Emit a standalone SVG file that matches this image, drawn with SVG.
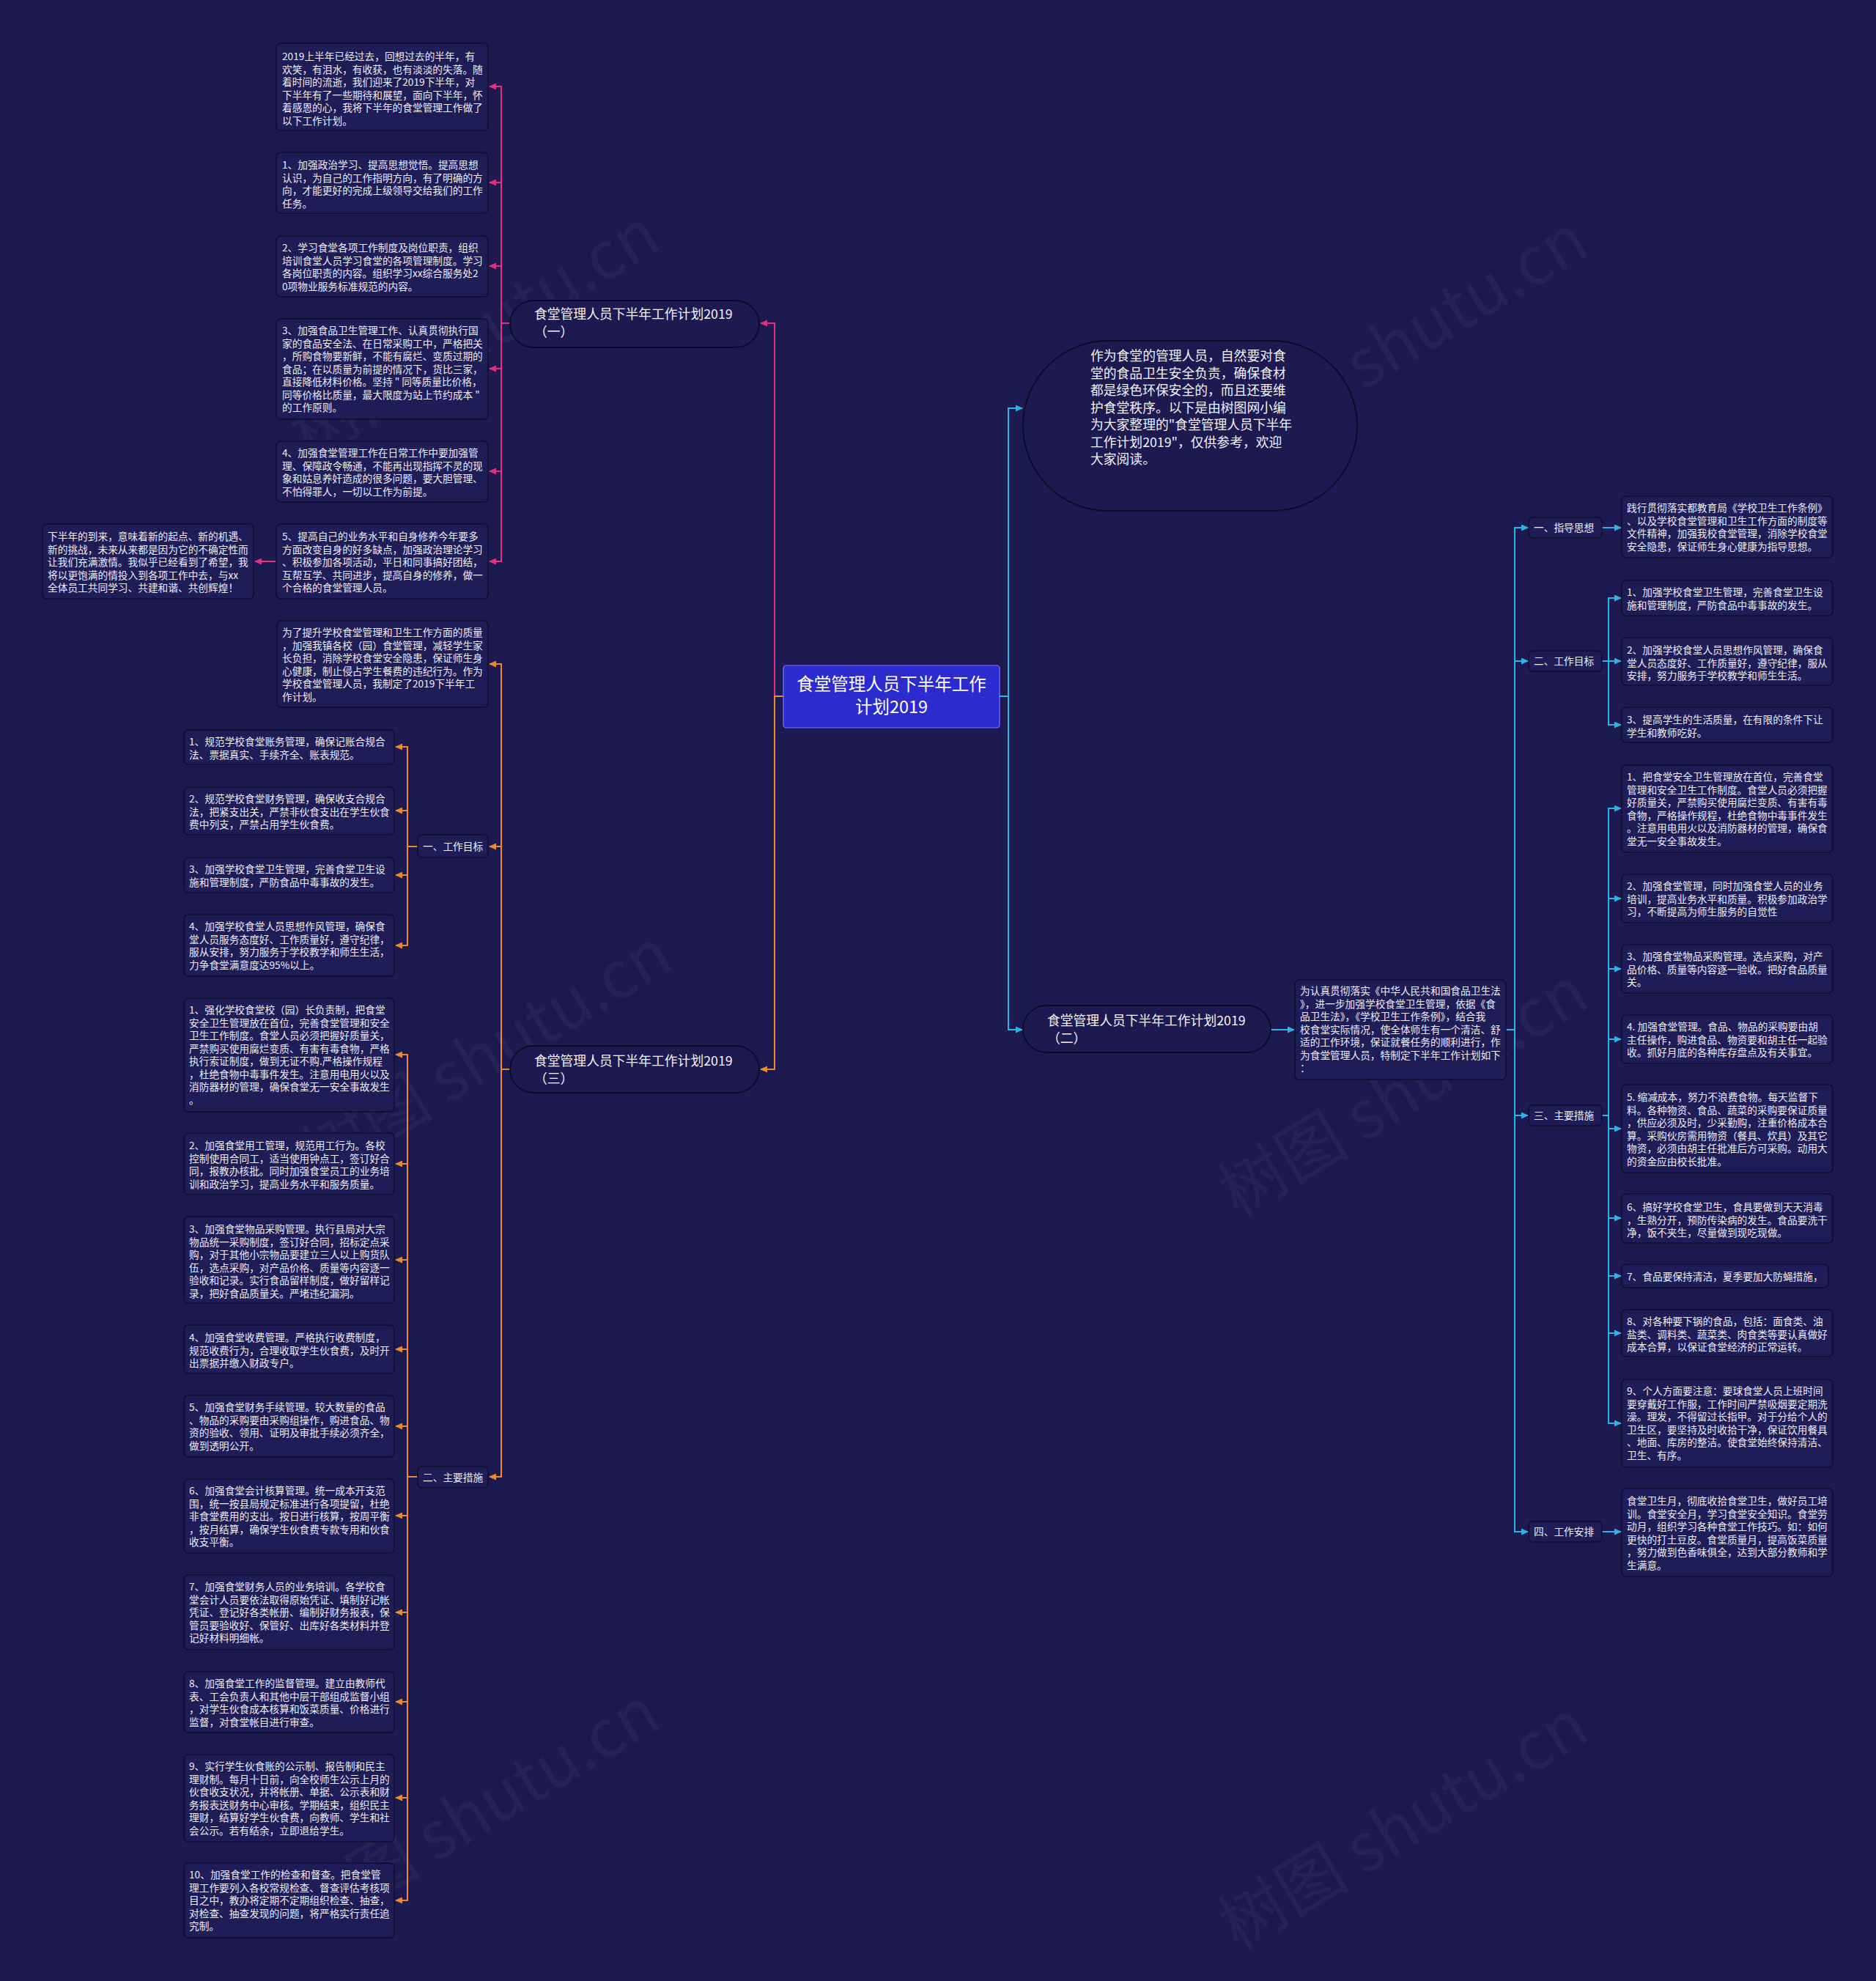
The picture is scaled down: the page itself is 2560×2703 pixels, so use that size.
<svg xmlns="http://www.w3.org/2000/svg" width="2560" height="2703" viewBox="0 0 2560 2703">
<defs>
<style>
.t{font-family:"Noto Sans CJK SC","Noto Sans",sans-serif;font-size:13.7px;fill:#ececf4}
.box{fill:#1e1d58;stroke:#0f0f2e;stroke-width:1.5}
.pill{fill:#1c1a50;stroke:#0c0c26;stroke-width:1.8}
.bt{font-family:"Noto Sans CJK SC","Noto Sans",sans-serif;font-size:17.8px;fill:#f2f2f8}
.wm{font-family:"Noto Sans CJK SC","Noto Sans",sans-serif;font-size:90px;fill:#ffffff;fill-opacity:0.035}
.cp{fill:none;stroke:#e2307c;stroke-width:2}
.co{fill:none;stroke:#ec8a2c;stroke-width:2}
.cc{fill:none;stroke:#2ab5e6;stroke-width:2}
</style>
<marker id="ap" markerWidth="10" markerHeight="9" refX="9" refY="4.5" orient="auto" markerUnits="userSpaceOnUse"><path d="M0,0 L10,4.5 L0,9 z" fill="#e2307c"/></marker>
<marker id="ao" markerWidth="10" markerHeight="9" refX="9" refY="4.5" orient="auto" markerUnits="userSpaceOnUse"><path d="M0,0 L10,4.5 L0,9 z" fill="#ec8a2c"/></marker>
<marker id="ac" markerWidth="10" markerHeight="9" refX="9" refY="4.5" orient="auto" markerUnits="userSpaceOnUse"><path d="M0,0 L10,4.5 L0,9 z" fill="#2ab5e6"/></marker>
</defs>
<rect x="0" y="0" width="2560" height="2703" fill="#1c1a50"/>
<g id="watermarks">
<text class="wm" x="664" y="483" text-anchor="middle" transform="rotate(-31 664 483)">树图 shutu.cn</text>
<text class="wm" x="1931" y="491" text-anchor="middle" transform="rotate(-31 1931 491)">树图 shutu.cn</text>
<text class="wm" x="681" y="1465" text-anchor="middle" transform="rotate(-31 681 1465)">树图 shutu.cn</text>
<text class="wm" x="1931" y="1517" text-anchor="middle" transform="rotate(-31 1931 1517)">树图 shutu.cn</text>
<text class="wm" x="664" y="2500" text-anchor="middle" transform="rotate(-31 664 2500)">树图 shutu.cn</text>
<text class="wm" x="1931" y="2517" text-anchor="middle" transform="rotate(-31 1931 2517)">树图 shutu.cn</text>
</g>
<g id="connectors">
<path class="cp" d="M1069 950 H1057 V441 H1038" marker-end="url(#ap)"/>
<path class="co" d="M1069 950 H1057 V1459 H1038" marker-end="url(#ao)"/>
<path class="cc" d="M1364 950 H1376 V557 H1395" marker-end="url(#ac)"/>
<path class="cc" d="M1364 950 H1376 V1405 H1395" marker-end="url(#ac)"/>
<path class="cp" d="M696 441 H684 V118 H668" marker-end="url(#ap)"/>
<path class="cp" d="M696 441 H684 V249 H668" marker-end="url(#ap)"/>
<path class="cp" d="M696 441 H684 V363 H668" marker-end="url(#ap)"/>
<path class="cp" d="M696 441 H684 V503 H668" marker-end="url(#ap)"/>
<path class="cp" d="M696 441 H684 V643 H668" marker-end="url(#ap)"/>
<path class="cp" d="M696 441 H684 V766 H668" marker-end="url(#ap)"/>
<path class="cp" d="M377 766 H348" marker-end="url(#ap)"/>
<path class="co" d="M696 1459 H684 V906 H668" marker-end="url(#ao)"/>
<path class="co" d="M696 1459 H684 V1155 H668" marker-end="url(#ao)"/>
<path class="co" d="M696 1459 H684 V2015 H668" marker-end="url(#ao)"/>
<path class="co" d="M570 1155 H556 V1019 H540" marker-end="url(#ao)"/>
<path class="co" d="M570 1155 H556 V1106 H540" marker-end="url(#ao)"/>
<path class="co" d="M570 1155 H556 V1194 H540" marker-end="url(#ao)"/>
<path class="co" d="M570 1155 H556 V1290 H540" marker-end="url(#ao)"/>
<path class="co" d="M570 2015 H556 V1439 H540" marker-end="url(#ao)"/>
<path class="co" d="M570 2015 H556 V1588 H540" marker-end="url(#ao)"/>
<path class="co" d="M570 2015 H556 V1719 H540" marker-end="url(#ao)"/>
<path class="co" d="M570 2015 H556 V1841 H540" marker-end="url(#ao)"/>
<path class="co" d="M570 2015 H556 V1946 H540" marker-end="url(#ao)"/>
<path class="co" d="M570 2015 H556 V2068 H540" marker-end="url(#ao)"/>
<path class="co" d="M570 2015 H556 V2200 H540" marker-end="url(#ao)"/>
<path class="co" d="M570 2015 H556 V2322 H540" marker-end="url(#ao)"/>
<path class="co" d="M570 2015 H556 V2453 H540" marker-end="url(#ao)"/>
<path class="co" d="M570 2015 H556 V2593 H540" marker-end="url(#ao)"/>
<path class="cc" d="M1734 1405 H1766" marker-end="url(#ac)"/>
<path class="cc" d="M2055 1405 H2067 V720 H2085" marker-end="url(#ac)"/>
<path class="cc" d="M2055 1405 H2067 V902 H2085" marker-end="url(#ac)"/>
<path class="cc" d="M2055 1405 H2067 V1522 H2085" marker-end="url(#ac)"/>
<path class="cc" d="M2055 1405 H2067 V2090 H2085" marker-end="url(#ac)"/>
<path class="cc" d="M2186 720 H2212" marker-end="url(#ac)"/>
<path class="cc" d="M2186 902 H2195 V816 H2212" marker-end="url(#ac)"/>
<path class="cc" d="M2186 902 H2212" marker-end="url(#ac)"/>
<path class="cc" d="M2186 902 H2195 V989 H2212" marker-end="url(#ac)"/>
<path class="cc" d="M2186 1522 H2195 V1103 H2212" marker-end="url(#ac)"/>
<path class="cc" d="M2186 1522 H2195 V1226 H2212" marker-end="url(#ac)"/>
<path class="cc" d="M2186 1522 H2195 V1322 H2212" marker-end="url(#ac)"/>
<path class="cc" d="M2186 1522 H2195 V1418 H2212" marker-end="url(#ac)"/>
<path class="cc" d="M2186 1522 H2195 V1540 H2212" marker-end="url(#ac)"/>
<path class="cc" d="M2186 1522 H2195 V1662 H2212" marker-end="url(#ac)"/>
<path class="cc" d="M2186 1522 H2195 V1741 H2212" marker-end="url(#ac)"/>
<path class="cc" d="M2186 1522 H2195 V1819 H2212" marker-end="url(#ac)"/>
<path class="cc" d="M2186 1522 H2195 V1942 H2212" marker-end="url(#ac)"/>
<path class="cc" d="M2186 2090 H2212" marker-end="url(#ac)"/>
</g>

<g id="center">
<rect x="1069" y="908" width="295" height="85" rx="4" fill="#2b2bcf" stroke="#7a7aff" stroke-width="1.2"/>
<text x="1216.5" y="942" text-anchor="middle" font-family="Noto Sans CJK SC, Noto Sans, sans-serif" font-size="23.5" fill="#ffffff">食堂管理人员下半年工作</text>
<text x="1216.5" y="973" text-anchor="middle" font-family="Noto Sans CJK SC, Noto Sans, sans-serif" font-size="23.5" fill="#ffffff">计划2019</text>
</g>

<g id="intro-bubble">
<rect class="pill" x="1396" y="465" width="456" height="232" rx="116"/>
<text class="bt" x="1488" y="492" font-size="17.6"><tspan x="1488">作为食堂的管理人员，自然要对食</tspan><tspan x="1488" dy="23.5">堂的食品卫生安全负责，确保食材</tspan><tspan x="1488" dy="23.5">都是绿色环保安全的，而且还要维</tspan><tspan x="1488" dy="23.5">护食堂秩序。以下是由树图网小编</tspan><tspan x="1488" dy="23.5">为大家整理的"食堂管理人员下半年</tspan><tspan x="1488" dy="23.5">工作计划2019"，仅供参考，欢迎</tspan><tspan x="1488" dy="23.5">大家阅读。</tspan></text>
</g>

<g id="branch1">
<rect class="pill" x="696" y="410" width="340" height="64" rx="32"/>
<text class="bt" x="729" y="435">食堂管理人员下半年工作计划2019</text>
<text class="bt" x="729" y="459">（一）</text>
</g>
<g id="branch3">
<rect class="pill" x="696" y="1427" width="340" height="64" rx="32"/>
<text class="bt" x="729" y="1454">食堂管理人员下半年工作计划2019</text>
<text class="bt" x="729" y="1478">（三）</text>
</g>
<g id="branch2">
<rect class="pill" x="1396" y="1372" width="338" height="64" rx="32"/>
<text class="bt" x="1429" y="1399">食堂管理人员下半年工作计划2019</text>
<text class="bt" x="1429" y="1423">（二）</text>
</g>

<g id="b1-intro">
<rect class="box" x="377" y="59" width="289" height="119" rx="6"/>
<text class="t" x="385" y="82"><tspan x="385">2019上半年已经过去，回想过去的半年，有</tspan><tspan x="385" dy="17.5">欢笑，有泪水，有收获，也有淡淡的失落。随</tspan><tspan x="385" dy="17.5">着时间的流逝，我们迎来了2019下半年，对</tspan><tspan x="385" dy="17.5">下半年有了一些期待和展望，面向下半年，怀</tspan><tspan x="385" dy="17.5">着感恩的心，我将下半年的食堂管理工作做了</tspan><tspan x="385" dy="17.5">以下工作计划。</tspan></text>
</g>
<g id="b1-1">
<rect class="box" x="377" y="208" width="289" height="83" rx="6"/>
<text class="t" x="385" y="230"><tspan x="385">1、加强政治学习、提高思想觉悟。提高思想</tspan><tspan x="385" dy="17.5">认识，为自己的工作指明方向，有了明确的方</tspan><tspan x="385" dy="17.5">向，才能更好的完成上级领导交给我们的工作</tspan><tspan x="385" dy="17.5">任务。</tspan></text>
</g>
<g id="b1-2">
<rect class="box" x="377" y="322" width="289" height="83" rx="6"/>
<text class="t" x="385" y="343"><tspan x="385">2、学习食堂各项工作制度及岗位职责，组织</tspan><tspan x="385" dy="17.5">培训食堂人员学习食堂的各项管理制度。学习</tspan><tspan x="385" dy="17.5">各岗位职责的内容。组织学习xx综合服务处2</tspan><tspan x="385" dy="17.5">0项物业服务标准规范的内容。</tspan></text>
</g>
<g id="b1-3">
<rect class="box" x="377" y="435" width="289" height="137" rx="6"/>
<text class="t" x="385" y="456"><tspan x="385">3、加强食品卫生管理工作、认真贯彻执行国</tspan><tspan x="385" dy="17.5">家的食品安全法、在日常采购工中，严格把关</tspan><tspan x="385" dy="17.5">，所购食物要新鲜，不能有腐烂、变质过期的</tspan><tspan x="385" dy="17.5">食品；在以质量为前提的情况下，货比三家，</tspan><tspan x="385" dy="17.5">直接降低材料价格。坚持 " 同等质量比价格，</tspan><tspan x="385" dy="17.5">同等价格比质量，最大限度为站上节约成本 "</tspan><tspan x="385" dy="17.5">的工作原则。</tspan></text>
</g>
<g id="b1-4">
<rect class="box" x="377" y="602" width="289" height="83" rx="6"/>
<text class="t" x="385" y="623"><tspan x="385">4、加强食堂管理工作在日常工作中要加强管</tspan><tspan x="385" dy="17.5">理、保障政令畅通，不能再出现指挥不灵的现</tspan><tspan x="385" dy="17.5">象和姑息养奸造成的很多问题，要大胆管理、</tspan><tspan x="385" dy="17.5">不怕得罪人，一切以工作为前提。</tspan></text>
</g>
<g id="b1-5">
<rect class="box" x="377" y="715" width="289" height="102" rx="6"/>
<text class="t" x="385" y="737"><tspan x="385">5、提高自己的业务水平和自身修养今年要多</tspan><tspan x="385" dy="17.5">方面改变自身的好多缺点，加强政治理论学习</tspan><tspan x="385" dy="17.5">、积极参加各项活动，平日和同事搞好团结，</tspan><tspan x="385" dy="17.5">互帮互学、共同进步，提高自身的修养，做一</tspan><tspan x="385" dy="17.5">个合格的食堂管理人员。</tspan></text>
</g>
<g id="b1-5-note">
<rect class="box" x="58" y="715" width="288" height="102" rx="6"/>
<text class="t" x="65" y="737"><tspan x="65">下半年的到来，意味着新的起点、新的机遇、</tspan><tspan x="65" dy="17.5">新的挑战，未来从来都是因为它的不确定性而</tspan><tspan x="65" dy="17.5">让我们充满激情。我似乎已经看到了希望，我</tspan><tspan x="65" dy="17.5">将以更饱满的情投入到各项工作中去，与xx</tspan><tspan x="65" dy="17.5">全体员工共同学习、共建和谐、共创辉煌！</tspan></text>
</g>

<g id="b3-intro">
<rect class="box" x="378" y="847" width="288" height="118" rx="6"/>
<text class="t" x="385" y="868"><tspan x="385">为了提升学校食堂管理和卫生工作方面的质量</tspan><tspan x="385" dy="17.5">，加强我镇各校（园）食堂管理，减轻学生家</tspan><tspan x="385" dy="17.5">长负担，消除学校食堂安全隐患，保证师生身</tspan><tspan x="385" dy="17.5">心健康，制止侵占学生餐费的违纪行为。作为</tspan><tspan x="385" dy="17.5">学校食堂管理人员，我制定了2019下半年工</tspan><tspan x="385" dy="17.5">作计划。</tspan></text>
</g>
<g id="b3-goal">
<rect class="box" x="570" y="1139" width="96" height="31" rx="6"/>
<text class="t" x="577" y="1160">一、工作目标</text>
</g>
<g id="b3-measure">
<rect class="box" x="570" y="2001" width="96" height="29" rx="6"/>
<text class="t" x="577" y="2021">二、主要措施</text>
</g>
<g id="b3-g1">
<rect class="box" x="251" y="996" width="287" height="47" rx="6"/>
<text class="t" x="258" y="1017"><tspan x="258">1、规范学校食堂账务管理，确保记账合规合</tspan><tspan x="258" dy="17.5">法、票据真实、手续齐全、账表规范。</tspan></text>
</g>
<g id="b3-g2">
<rect class="box" x="251" y="1074" width="287" height="65" rx="6"/>
<text class="t" x="258" y="1095"><tspan x="258">2、规范学校食堂财务管理，确保收支合规合</tspan><tspan x="258" dy="17.5">法，把紧支出关，严禁非伙食支出在学生伙食</tspan><tspan x="258" dy="17.5">费中列支，严禁占用学生伙食费。</tspan></text>
</g>
<g id="b3-g3">
<rect class="box" x="251" y="1170" width="287" height="48" rx="6"/>
<text class="t" x="258" y="1191"><tspan x="258">3、加强学校食堂卫生管理，完善食堂卫生设</tspan><tspan x="258" dy="17.5">施和管理制度，严防食品中毒事故的发生。</tspan></text>
</g>
<g id="b3-g4">
<rect class="box" x="251" y="1248" width="287" height="84" rx="6"/>
<text class="t" x="258" y="1269"><tspan x="258">4、加强学校食堂人员思想作风管理，确保食</tspan><tspan x="258" dy="17.5">堂人员服务态度好、工作质量好，遵守纪律，</tspan><tspan x="258" dy="17.5">服从安排，努力服务于学校教学和师生生活，</tspan><tspan x="258" dy="17.5">力争食堂满意度达95%以上。</tspan></text>
</g>
<g id="b3-m1">
<rect class="box" x="251" y="1362" width="287" height="155" rx="6"/>
<text class="t" x="258" y="1383"><tspan x="258">1、强化学校食堂校（园）长负责制，把食堂</tspan><tspan x="258" dy="17.5">安全卫生管理放在首位，完善食堂管理和安全</tspan><tspan x="258" dy="17.5">卫生工作制度。食堂人员必须把握好质量关，</tspan><tspan x="258" dy="17.5">严禁购买使用腐烂变质、有害有毒食物，严格</tspan><tspan x="258" dy="17.5">执行索证制度，做到无证不购.严格操作规程</tspan><tspan x="258" dy="17.5">，杜绝食物中毒事件发生。注意用电用火以及</tspan><tspan x="258" dy="17.5">消防器材的管理，确保食堂无一安全事故发生</tspan><tspan x="258" dy="17.5">。</tspan></text>
</g>
<g id="b3-m2">
<rect class="box" x="251" y="1546" width="287" height="84" rx="6"/>
<text class="t" x="258" y="1568"><tspan x="258">2、加强食堂用工管理，规范用工行为。各校</tspan><tspan x="258" dy="17.5">控制使用合同工，适当使用钟点工，签订好合</tspan><tspan x="258" dy="17.5">同，报教办核批。同时加强食堂员工的业务培</tspan><tspan x="258" dy="17.5">训和政治学习，提高业务水平和服务质量。</tspan></text>
</g>
<g id="b3-m3">
<rect class="box" x="251" y="1660" width="287" height="118" rx="6"/>
<text class="t" x="258" y="1682"><tspan x="258">3、加强食堂物品采购管理。执行县局对大宗</tspan><tspan x="258" dy="17.5">物品统一采购制度，签订好合同，招标定点采</tspan><tspan x="258" dy="17.5">购，对于其他小宗物品要建立三人以上购货队</tspan><tspan x="258" dy="17.5">伍，选点采购，对产品价格、质量等内容逐一</tspan><tspan x="258" dy="17.5">验收和记录。实行食品留样制度，做好留样记</tspan><tspan x="258" dy="17.5">录，把好食品质量关。严堵违纪漏洞。</tspan></text>
</g>
<g id="b3-m4">
<rect class="box" x="251" y="1808" width="287" height="66" rx="6"/>
<text class="t" x="258" y="1830"><tspan x="258">4、加强食堂收费管理。严格执行收费制度，</tspan><tspan x="258" dy="17.5">规范收费行为，合理收取学生伙食费，及时开</tspan><tspan x="258" dy="17.5">出票据并缴入财政专户。</tspan></text>
</g>
<g id="b3-m5">
<rect class="box" x="251" y="1904" width="287" height="84" rx="6"/>
<text class="t" x="258" y="1925"><tspan x="258">5、加强食堂财务手续管理。较大数量的食品</tspan><tspan x="258" dy="17.5">、物品的采购要由采购组操作，购进食品、物</tspan><tspan x="258" dy="17.5">资的验收、领用、证明及审批手续必须齐全，</tspan><tspan x="258" dy="17.5">做到透明公开。</tspan></text>
</g>
<g id="b3-m6">
<rect class="box" x="251" y="2018" width="287" height="101" rx="6"/>
<text class="t" x="258" y="2039"><tspan x="258">6、加强食堂会计核算管理。统一成本开支范</tspan><tspan x="258" dy="17.5">围，统一按县局规定标准进行各项提留，杜绝</tspan><tspan x="258" dy="17.5">非食堂费用的支出。按日进行核算，按周平衡</tspan><tspan x="258" dy="17.5">，按月结算，确保学生伙食费专款专用和伙食</tspan><tspan x="258" dy="17.5">收支平衡。</tspan></text>
</g>
<g id="b3-m7">
<rect class="box" x="251" y="2149" width="287" height="102" rx="6"/>
<text class="t" x="258" y="2170"><tspan x="258">7、加强食堂财务人员的业务培训。各学校食</tspan><tspan x="258" dy="17.5">堂会计人员要依法取得原始凭证、填制好记帐</tspan><tspan x="258" dy="17.5">凭证、登记好各类帐册、编制好财务报表，保</tspan><tspan x="258" dy="17.5">管员要验收好、保管好、出库好各类材料并登</tspan><tspan x="258" dy="17.5">记好材料明细帐。</tspan></text>
</g>
<g id="b3-m8">
<rect class="box" x="251" y="2281" width="287" height="83" rx="6"/>
<text class="t" x="258" y="2302"><tspan x="258">8、加强食堂工作的监督管理。建立由教师代</tspan><tspan x="258" dy="17.5">表、工会负责人和其他中层干部组成监督小组</tspan><tspan x="258" dy="17.5">，对学生伙食成本核算和饭菜质量、价格进行</tspan><tspan x="258" dy="17.5">监督，对食堂帐目进行审查。</tspan></text>
</g>
<g id="b3-m9">
<rect class="box" x="251" y="2394" width="287" height="119" rx="6"/>
<text class="t" x="258" y="2415"><tspan x="258">9、实行学生伙食账的公示制、报告制和民主</tspan><tspan x="258" dy="17.5">理财制。每月十日前，向全校师生公示上月的</tspan><tspan x="258" dy="17.5">伙食收支状况，并将帐册、单据、公示表和财</tspan><tspan x="258" dy="17.5">务报表送财务中心审核。学期结束，组织民主</tspan><tspan x="258" dy="17.5">理财，结算好学生伙食费，向教师、学生和社</tspan><tspan x="258" dy="17.5">会公示。若有结余，立即退给学生。</tspan></text>
</g>
<g id="b3-m10">
<rect class="box" x="251" y="2542" width="287" height="102" rx="6"/>
<text class="t" x="258" y="2563"><tspan x="258">10、加强食堂工作的检查和督查。把食堂管</tspan><tspan x="258" dy="17.5">理工作要列入各校常规检查、督查评估考核项</tspan><tspan x="258" dy="17.5">目之中，教办将定期不定期组织检查、抽查，</tspan><tspan x="258" dy="17.5">对检查、抽查发现的问题，将严格实行责任追</tspan><tspan x="258" dy="17.5">究制。</tspan></text>
</g>

<g id="b2-intro">
<rect class="box" x="1767" y="1337" width="288" height="136" rx="6"/>
<text class="t" x="1774" y="1357"><tspan x="1774">为认真贯彻落实《中华人民共和国食品卫生法</tspan><tspan x="1774" dy="17.5">》，进一步加强学校食堂卫生管理，依据《食</tspan><tspan x="1774" dy="17.5">品卫生法》，《学校卫生工作条例》，结合我</tspan><tspan x="1774" dy="17.5">校食堂实际情况，使全体师生有一个清洁、舒</tspan><tspan x="1774" dy="17.5">适的工作环境，保证就餐任务的顺利进行，作</tspan><tspan x="1774" dy="17.5">为食堂管理人员，特制定下半年工作计划如下</tspan><tspan x="1774" dy="17.5">：</tspan></text>
</g>
<g id="b2-c1">
<rect class="box" x="2086" y="706" width="100" height="28" rx="6"/>
<text class="t" x="2093" y="725">一、指导思想</text>
</g>
<g id="b2-c2">
<rect class="box" x="2086" y="888" width="100" height="28" rx="6"/>
<text class="t" x="2093" y="907">二、工作目标</text>
</g>
<g id="b2-c3">
<rect class="box" x="2086" y="1508" width="100" height="28" rx="6"/>
<text class="t" x="2093" y="1527">三、主要措施</text>
</g>
<g id="b2-c4">
<rect class="box" x="2086" y="2076" width="100" height="28" rx="6"/>
<text class="t" x="2093" y="2095">四、工作安排</text>
</g>
<g id="b2-z">
<rect class="box" x="2213" y="677" width="288" height="84" rx="6"/>
<text class="t" x="2220" y="698"><tspan x="2220">践行贯彻落实都教育局《学校卫生工作条例》</tspan><tspan x="2220" dy="17.5">、以及学校食堂管理和卫生工作方面的制度等</tspan><tspan x="2220" dy="17.5">文件精神，加强我校食堂管理，消除学校食堂</tspan><tspan x="2220" dy="17.5">安全隐患，保证师生身心健康为指导思想。</tspan></text>
</g>
<g id="b2-t1">
<rect class="box" x="2213" y="792" width="288" height="48" rx="6"/>
<text class="t" x="2220" y="813"><tspan x="2220">1、加强学校食堂卫生管理，完善食堂卫生设</tspan><tspan x="2220" dy="17.5">施和管理制度，严防食品中毒事故的发生。</tspan></text>
</g>
<g id="b2-t2">
<rect class="box" x="2213" y="870" width="288" height="65" rx="6"/>
<text class="t" x="2220" y="892"><tspan x="2220">2、加强学校食堂人员思想作风管理，确保食</tspan><tspan x="2220" dy="17.5">堂人员态度好、工作质量好，遵守纪律，服从</tspan><tspan x="2220" dy="17.5">安排，努力服务于学校教学和师生生活。</tspan></text>
</g>
<g id="b2-t3">
<rect class="box" x="2213" y="965" width="288" height="48" rx="6"/>
<text class="t" x="2220" y="987"><tspan x="2220">3、提高学生的生活质量，在有限的条件下让</tspan><tspan x="2220" dy="17.5">学生和教师吃好。</tspan></text>
</g>
<g id="b2-s1">
<rect class="box" x="2213" y="1044" width="288" height="119" rx="6"/>
<text class="t" x="2220" y="1065"><tspan x="2220">1、把食堂安全卫生管理放在首位，完善食堂</tspan><tspan x="2220" dy="17.5">管理和安全卫生工作制度。食堂人员必须把握</tspan><tspan x="2220" dy="17.5">好质量关，严禁购买使用腐烂变质、有害有毒</tspan><tspan x="2220" dy="17.5">食物，严格操作规程，杜绝食物中毒事件发生</tspan><tspan x="2220" dy="17.5">。注意用电用火以及消防器材的管理，确保食</tspan><tspan x="2220" dy="17.5">堂无一安全事故发生。</tspan></text>
</g>
<g id="b2-s2">
<rect class="box" x="2213" y="1193" width="288" height="66" rx="6"/>
<text class="t" x="2220" y="1214"><tspan x="2220">2、加强食堂管理，同时加强食堂人员的业务</tspan><tspan x="2220" dy="17.5">培训，提高业务水平和质量。积极参加政治学</tspan><tspan x="2220" dy="17.5">习，不断提高为师生服务的自觉性</tspan></text>
</g>
<g id="b2-s3">
<rect class="box" x="2213" y="1289" width="288" height="66" rx="6"/>
<text class="t" x="2220" y="1310"><tspan x="2220">3、加强食堂物品采购管理。选点采购，对产</tspan><tspan x="2220" dy="17.5">品价格、质量等内容逐一验收。把好食品质量</tspan><tspan x="2220" dy="17.5">关。</tspan></text>
</g>
<g id="b2-s4">
<rect class="box" x="2213" y="1385" width="288" height="66" rx="6"/>
<text class="t" x="2220" y="1406"><tspan x="2220">4. 加强食堂管理。食品、物品的采购要由胡</tspan><tspan x="2220" dy="17.5">主任操作，购进食品、物资要和胡主任一起验</tspan><tspan x="2220" dy="17.5">收。抓好月底的各种库存盘点及有关事宜。</tspan></text>
</g>
<g id="b2-s5">
<rect class="box" x="2213" y="1480" width="288" height="120" rx="6"/>
<text class="t" x="2220" y="1502"><tspan x="2220">5. 缩减成本，努力不浪费食物。每天监督下</tspan><tspan x="2220" dy="17.5">料。各种物资、食品、蔬菜的采购要保证质量</tspan><tspan x="2220" dy="17.5">，供应必须及时，少采勤购，注重价格成本合</tspan><tspan x="2220" dy="17.5">算。采购伙房需用物资（餐具、炊具）及其它</tspan><tspan x="2220" dy="17.5">物资，必须由胡主任批准后方可采购。动用大</tspan><tspan x="2220" dy="17.5">的资金应由校长批准。</tspan></text>
</g>
<g id="b2-s6">
<rect class="box" x="2213" y="1629" width="288" height="67" rx="6"/>
<text class="t" x="2220" y="1652"><tspan x="2220">6、搞好学校食堂卫生，食具要做到天天消毒</tspan><tspan x="2220" dy="17.5">，生熟分开，预防传染病的发生。食品要洗干</tspan><tspan x="2220" dy="17.5">净，饭不夹生，尽量做到现吃现做。</tspan></text>
</g>
<g id="b2-s7">
<rect class="box" x="2213" y="1725" width="282" height="32" rx="6"/>
<text class="t" x="2220" y="1747">7、食品要保持清洁，夏季要加大防蝇措施，</text>
</g>
<g id="b2-s8">
<rect class="box" x="2213" y="1787" width="288" height="64" rx="6"/>
<text class="t" x="2220" y="1808"><tspan x="2220">8、对各种要下锅的食品，包括：面食类、油</tspan><tspan x="2220" dy="17.5">盐类、调料类、蔬菜类、肉食类等要认真做好</tspan><tspan x="2220" dy="17.5">成本合算，以保证食堂经济的正常运转。</tspan></text>
</g>
<g id="b2-s9">
<rect class="box" x="2213" y="1882" width="288" height="120" rx="6"/>
<text class="t" x="2220" y="1903"><tspan x="2220">9、个人方面要注意：要球食堂人员上班时间</tspan><tspan x="2220" dy="17.5">要穿戴好工作服，工作时间严禁吸烟要定期洗</tspan><tspan x="2220" dy="17.5">澡。理发，不得留过长指甲。对于分给个人的</tspan><tspan x="2220" dy="17.5">卫生区，要坚持及时收拾干净，保证饮用餐具</tspan><tspan x="2220" dy="17.5">、地面、库房的整洁。使食堂始终保持清洁、</tspan><tspan x="2220" dy="17.5">卫生、有序。</tspan></text>
</g>
<g id="b2-a1">
<rect class="box" x="2213" y="2031" width="288" height="120" rx="6"/>
<text class="t" x="2220" y="2053"><tspan x="2220">食堂卫生月，彻底收拾食堂卫生，做好员工培</tspan><tspan x="2220" dy="17.5">训。食堂安全月，学习食堂安全知识。食堂劳</tspan><tspan x="2220" dy="17.5">动月，组织学习各种食堂工作技巧。如：如何</tspan><tspan x="2220" dy="17.5">更快的打土豆皮。食堂质量月，提高饭菜质量</tspan><tspan x="2220" dy="17.5">，努力做到色香味俱全，达到大部分教师和学</tspan><tspan x="2220" dy="17.5">生满意。</tspan></text>
</g>
</svg>
